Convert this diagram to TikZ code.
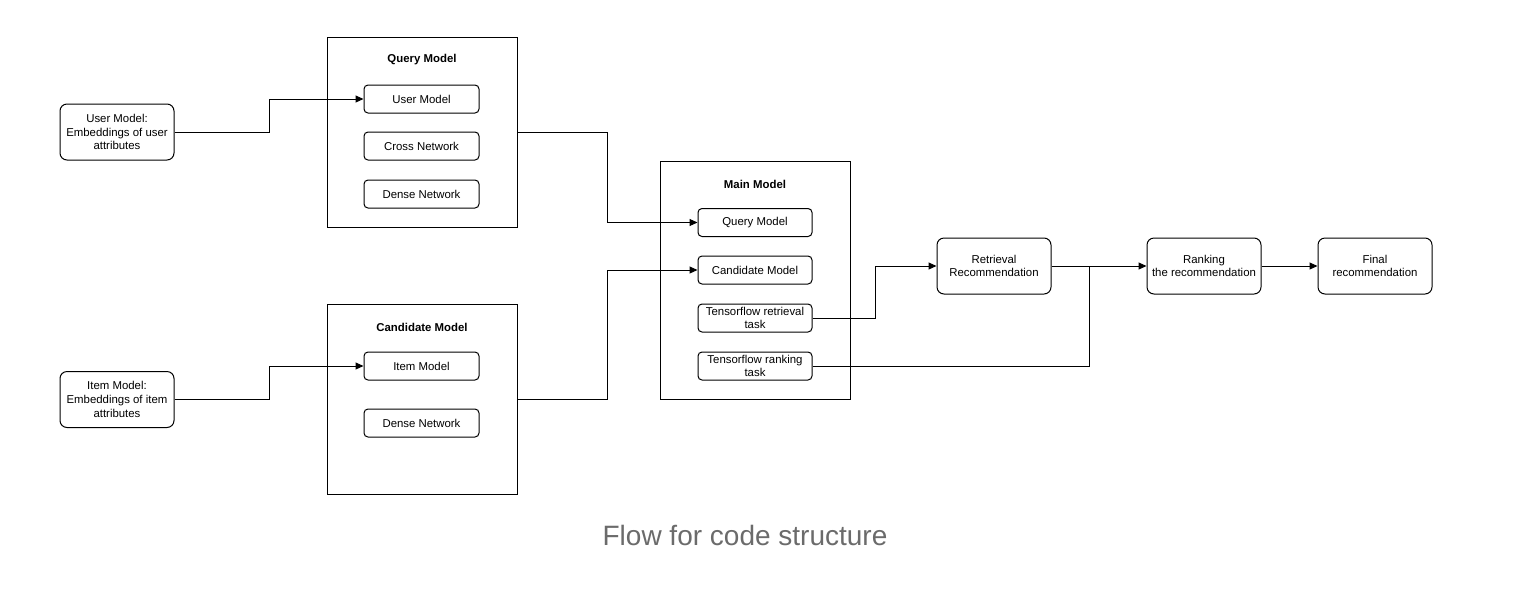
\documentclass[tikz,border=0pt]{standalone}
\usepackage{fontspec}
\setmainfont{Liberation Sans}
\usetikzlibrary{arrows.meta}

\begin{document}
\begin{tikzpicture}[x=1pt, y=-1pt, line width=1pt]
            \tikzset{
                txt/.style={font=\fontsize{11.4}{13.8}\selectfont},
                extbox/.style={draw, txt, rounded corners=7pt, align=center,
                    minimum width=114pt, minimum height=56pt, inner sep=1pt},
                inbox/.style={draw, txt, rounded corners=4pt, align=center,
                    minimum width=115pt, minimum height=28pt, inner sep=1pt},
                frame/.style={draw, minimum width=190pt, minimum height=190pt},
                ttl/.style={font=\bfseries\fontsize{11.4}{13}\selectfont},
                arr/.style={-{Triangle[length=8pt, width=7pt]}}
            }

            \useasboundingbox (0,0) rectangle (1526,614);

            % inputs
            \node[extbox] (usr) at (117,132) {User Model:\\Embeddings of user\\attributes};
            \node[extbox] (itm) at (117,399.5) {Item Model:\\Embeddings of item\\attributes};

            % query model
            \node[frame] (qc) at (422,132) {};
            \node[ttl] (qct) at (422,60) {Query Model};
            \node[inbox] (qu) at (421.5,99) {User Model};
            \node[inbox] (qx) at (421.5,146) {Cross Network};
            \node[inbox] (qd) at (421.5,194) {Dense Network};

            % candidate model
            \node[frame] (cc) at (422,399) {};
            \node[ttl] (cct) at (422,327) {Candidate Model};
            \node[inbox] (ci) at (421.5,366) {Item Model};
            \node[inbox] (cd) at (421.5,423) {Dense Network};

            % main model
            \node[frame, minimum height=238pt] (mm) at (755,280) {};
            \node[ttl] (mmt) at (755,184) {Main Model};
            \foreach \name/\y/\label in {mq/222.5/{Query Model},
                    mc/270/{Candidate Model},
                    mr/318/{Tensorflow retrieval\\task},
                    mk/366/{Tensorflow ranking\\task}} {
                \node[inbox, minimum width=114pt] (\name) at (755,\y) {\label};
            }

            % outputs
            \node[extbox] (rrec) at (994,266) {Retrieval\\Recommendation};
            \node[extbox] (rank) at (1204,266) {Ranking\\the recommendation};
            \node[extbox] (fin) at (1375,266) {Final\\recommendation};
            \coordinate (join) at (1089,266);

            % connectors
            \draw[arr] (usr.east) -- ++(95,0) |- (qu.west);
            \draw[arr] (itm.east) -- ++(95,0) |- (ci.west);
            \draw[arr] (qc.east) -- ++(90,0) |- (mq.west);
            \draw[arr] (cc.east) -- ++(90,0) |- (mc.west);
            \draw[arr] (mr.east) -- ++(63,0) |- (rrec.west);
            \draw (mk.east) -| (join);
            \draw[arr] (rrec.east) -- (rank.west);
            \draw[arr] (rank.east) -- (fin.west);

            \node[text=black!58, font=\fontsize{28}{32}\selectfont] (cap) at (745,535) {Flow for code structure};
        \end{tikzpicture}
\end{document}
